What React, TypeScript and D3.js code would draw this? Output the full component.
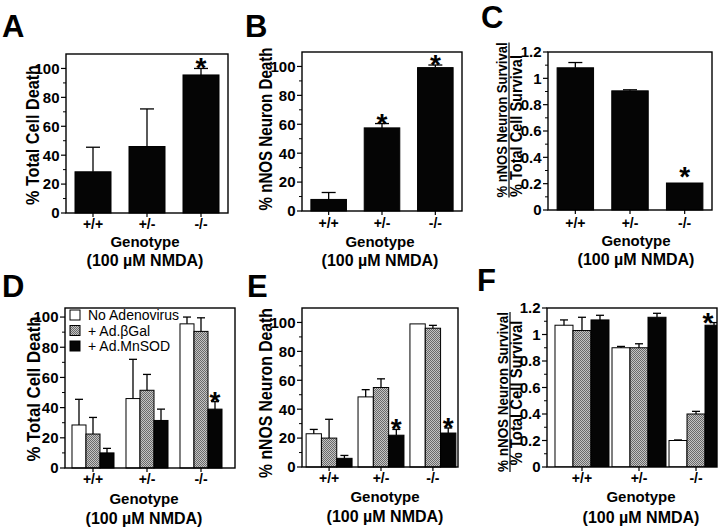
import React from "react";
import * as d3 from "d3";

const genotypes = ["+/+", "+/-", "-/-"];
const legendNames = ["No Adenovirus", "+ Ad.\u03B2Gal", "+ Ad.MnSOD"];
const pctTicks = [0, 20, 40, 60, 80, 100];
const pctMinor = [10, 30, 50, 70, 90];
const ratioTicks = [0, 0.2, 0.4, 0.6, 0.8, 1, 1.2];
const ratioMinor = [0.1, 0.3, 0.5, 0.7, 0.9, 1.1];

// Panel A
const aTotalDeath = [28.5, 46, 95.5];
const aTotalDeathErr = [17, 26, 4.5];
const aStars = [false, false, true];
// Panel B
const bNosDeath = [8, 57.5, 99.2];
const bNosDeathErr = [4.8, 3, 1.8];
const bStars = [false, true, true];
// Panel C
const cRatio = [1.08, 0.905, 0.205];
const cRatioErr = [0.04, 0.008, 0];
const cStars = [false, false, true];
// Panel D
const dNoAdeno = [28.5, 46, 95.5];
const dNoAdenoErr = [17, 26, 4.5];
const dBGal = [22.5, 51.5, 90.5];
const dBGalErr = [11, 10.5, 9];
const dMnSOD = [10, 31.5, 39];
const dMnSODErr = [3, 7.5, 5];
const dMnSODStars = [false, false, true];
// Panel E
const eNoAdeno = [23, 48.5, 99];
const eNoAdenoErr = [3, 5, 0];
const eBGal = [20, 55, 96];
const eBGalErr = [13, 6, 2];
const eMnSOD = [6, 22, 23.5];
const eMnSODErr = [2, 4, 3.5];
const eMnSODStars = [false, true, true];
// Panel F
const fNoAdeno = [1.07, 0.9, 0.2];
const fNoAdenoErr = [0.04, 0.01, 0.004];
const fBGal = [1.03, 0.9, 0.4];
const fBGalErr = [0.1, 0.03, 0.02];
const fMnSOD = [1.11, 1.13, 1.07];
const fMnSODErr = [0.035, 0.03, 0.02];
const fMnSODStars = [false, false, true];

const noStars = [false, false, false];
const FONT = "'Liberation Sans', Arial, Helvetica, sans-serif";
const WHITE = "#ffffff";
const GRAY = "url(#dither)";
const BLACK = "#050505";

type Series = { values: number[]; errs: number[]; fill: string; stars: boolean[] };
type Title = { text: string; x: number; y: number; len: number; fs: number; underline?: boolean };
type PanelCfg = {
  id: string;
  letter: string;
  letterX: number;
  letterY: number;
  frame: [number, number, number, number];
  max: number;
  ticks: number[];
  minor: number[];
  fmt: (d: number) => string;
  band: [number, number];
  pi: number;
  po: number;
  series: Series[];
  titles: Title[];
  xTitleX: number;
  xLabelY: number;
  genoY: number;
  nmdaY: number;
  capHalf: number;
  legend?: boolean;
  clip?: boolean;
};

const pctFmt = (d: number) => String(d);
const ratioFmt = (d: number) => String(+d.toFixed(1));

const panels: PanelCfg[] = [
  {
    id: "A", letter: "A", letterX: 2, letterY: 37, frame: [66, 228, 54, 213], max: 110,
    ticks: pctTicks, minor: pctMinor, fmt: pctFmt, band: [66, 228], pi: 1 / 3, po: 1 / 6,
    series: [{ values: aTotalDeath, errs: aTotalDeathErr, fill: BLACK, stars: aStars }],
    titles: [{ text: "% Total Cell Death", x: 39, y: 135, len: 140, fs: 19 }],
    xTitleX: 145, xLabelY: 229, genoY: 247, nmdaY: 266, capHalf: 7,
  },
  {
    id: "B", letter: "B", letterX: 245, letterY: 37, frame: [302, 462, 52, 211], max: 110,
    ticks: pctTicks, minor: pctMinor, fmt: pctFmt, band: [302, 462], pi: 1 / 3, po: 1 / 6,
    series: [{ values: bNosDeath, errs: bNosDeathErr, fill: BLACK, stars: bStars }],
    titles: [{ text: "% nNOS Neuron Death", x: 272, y: 129, len: 163, fs: 19 }],
    xTitleX: 380, xLabelY: 228, genoY: 247, nmdaY: 266, capHalf: 7,
  },
  {
    id: "C", letter: "C", letterX: 481, letterY: 28, frame: [548, 712, 52, 210], max: 1.2,
    ticks: ratioTicks, minor: ratioMinor, fmt: ratioFmt, band: [548, 712], pi: 1 / 3, po: 1 / 6,
    series: [{ values: cRatio, errs: cRatioErr, fill: BLACK, stars: cStars }],
    titles: [
      { text: "% nNOS Neuron Survival", x: 507, y: 120, len: 155, fs: 15, underline: true },
      { text: "% Total Cell Survival", x: 522, y: 126, len: 142, fs: 16 },
    ],
    xTitleX: 636, xLabelY: 228, genoY: 246, nmdaY: 265, capHalf: 7,
  },
  {
    id: "D", letter: "D", letterX: 2, letterY: 297, frame: [65, 235, 308, 468], max: 106,
    ticks: pctTicks, minor: pctMinor, fmt: pctFmt, band: [66, 228], pi: 0.222, po: 0.111,
    series: [
      { values: dNoAdeno, errs: dNoAdenoErr, fill: WHITE, stars: noStars },
      { values: dBGal, errs: dBGalErr, fill: GRAY, stars: noStars },
      { values: dMnSOD, errs: dMnSODErr, fill: BLACK, stars: dMnSODStars },
    ],
    titles: [{ text: "% Total Cell Death", x: 40, y: 389, len: 145, fs: 19 }],
    xTitleX: 144, xLabelY: 484, genoY: 504, nmdaY: 524, capHalf: 4, legend: true,
  },
  {
    id: "E", letter: "E", letterX: 247, letterY: 297, frame: [302, 458, 308, 467], max: 110,
    ticks: pctTicks, minor: pctMinor, fmt: pctFmt, band: [303, 459], pi: 0.115, po: 0.06,
    series: [
      { values: eNoAdeno, errs: eNoAdenoErr, fill: WHITE, stars: noStars },
      { values: eBGal, errs: eBGalErr, fill: GRAY, stars: noStars },
      { values: eMnSOD, errs: eMnSODErr, fill: BLACK, stars: eMnSODStars },
    ],
    titles: [{ text: "% nNOS Neuron Death", x: 272, y: 393, len: 170, fs: 19 }],
    xTitleX: 385, xLabelY: 483, genoY: 502, nmdaY: 522, capHalf: 4,
  },
  {
    id: "F", letter: "F", letterX: 477, letterY: 291, frame: [547, 717, 308, 467], max: 1.2,
    ticks: ratioTicks, minor: ratioMinor, fmt: ratioFmt, band: [553, 725], pi: 0.053, po: 0.035,
    series: [
      { values: fNoAdeno, errs: fNoAdenoErr, fill: WHITE, stars: noStars },
      { values: fBGal, errs: fBGalErr, fill: GRAY, stars: noStars },
      { values: fMnSOD, errs: fMnSODErr, fill: BLACK, stars: fMnSODStars },
    ],
    titles: [
      { text: "% nNOS Neuron Survival", x: 508, y: 392, len: 160, fs: 15, underline: true },
      { text: "% Total Cell Survival", x: 522, y: 393, len: 145, fs: 16 },
    ],
    xTitleX: 641, xLabelY: 483, genoY: 502, nmdaY: 523, capHalf: 4, clip: true,
  },
];

function Panel({ p }: { p: PanelCfg }) {
  const [x0, x1, y0, y1] = p.frame;
  const x = d3.scaleBand<string>().domain(genotypes).range(p.band).paddingInner(p.pi).paddingOuter(p.po);
  const xs = d3
    .scaleBand<number>()
    .domain(p.series.map((_, i) => i))
    .range([0, x.bandwidth()])
    .padding(0);
  const y = d3.scaleLinear().domain([0, p.max]).range([y1, y0]);
  const clipId = `clip-${p.id}`;
  const starFs = 28;
  const marks = p.series.flatMap((s, si) =>
    genotypes.map((g, gi) => {
      const bx = (x(g) as number) + (xs(si) as number);
      const bw = xs.bandwidth();
      const v = s.values[gi];
      const e = s.errs[gi];
      return { key: `${si}-${gi}`, bx, bw, cx: bx + bw / 2, top: y(v), et: y(v + e), e, fill: s.fill, star: s.stars[gi] };
    })
  );
  return (
    <g>
      {p.clip && (
        <clipPath id={clipId}>
          <rect x={x0} y={y0 - 40} width={x1 - x0} height={y1 - y0 + 40} />
        </clipPath>
      )}
      <text x={p.letterX} y={p.letterY} fontSize={31} fontWeight="bold" fontFamily={FONT}>
        {p.letter}
      </text>
      <g clipPath={p.clip ? `url(#${clipId})` : undefined}>
        {marks.map((m) => (
          <g key={m.key}>
            <rect x={m.bx} y={m.top} width={m.bw} height={y(0) - m.top} fill={m.fill} stroke="#000" strokeWidth={1} />
            {m.e > 0 && (
              <g stroke="#000" strokeWidth={1.3}>
                <line x1={m.cx} x2={m.cx} y1={m.top} y2={m.et} />
                <line x1={m.cx - p.capHalf} x2={m.cx + p.capHalf} y1={m.et} y2={m.et} />
              </g>
            )}
          </g>
        ))}
      </g>
      {marks
        .filter((m) => m.star)
        .map((m) => (
          <text
            key={`s${m.key}`}
            x={Math.min(m.cx, x1 - 9)}
            y={(m.e > 0 ? m.et - 3 : m.top - 9) + 0.43 * starFs}
            fontSize={starFs}
            fontWeight="bold"
            textAnchor="middle"
            fontFamily={FONT}
          >
            *
          </text>
        ))}
      <rect x={x0} y={y0} width={x1 - x0} height={y1 - y0} fill="none" stroke="#000" strokeWidth={1.4} />
      {p.ticks.map((t) => (
        <g key={`t${t}`}>
          <line x1={x0 - 5} x2={x0} y1={y(t)} y2={y(t)} stroke="#000" strokeWidth={1.2} />
          <text
            x={x0 - 6.5}
            y={y(t)}
            dy="0.36em"
            textAnchor="end"
            fontSize={15}
            fontWeight="bold"
            fontFamily={FONT}
          >
            {p.fmt(t)}
          </text>
        </g>
      ))}
      {p.minor.map((t) => (
        <line key={`m${t}`} x1={x0 - 3} x2={x0} y1={y(t)} y2={y(t)} stroke="#000" strokeWidth={1} />
      ))}
      {genotypes.map((g) => {
        const cx = (x(g) as number) + x.bandwidth() / 2;
        return (
          <g key={`x${g}`}>
            <line x1={cx} x2={cx} y1={y1} y2={y1 + 4} stroke="#000" strokeWidth={1.2} />
            <text x={cx} y={p.xLabelY} textAnchor="middle" fontSize={14} fontWeight="bold" fontFamily={FONT}>
              {g}
            </text>
          </g>
        );
      })}
      <text x={p.xTitleX} y={p.genoY} textAnchor="middle" fontSize={15} fontWeight="bold" fontFamily={FONT}>
        Genotype
      </text>
      <text
        x={p.xTitleX}
        y={p.nmdaY}
        textAnchor="middle"
        fontSize={16}
        fontWeight="bold"
        fontFamily={FONT}
        style={{ whiteSpace: "pre" }}
      >
        {"(100 \u00B5M NMDA)"}
      </text>
      {p.titles.map((t, i) => (
        <g key={`yt${i}`} transform={`translate(${t.x},${t.y}) rotate(-90)`}>
          <text
            x={0}
            y={0}
            textAnchor="middle"
            fontSize={t.fs}
            fontWeight="bold"
            fontFamily={FONT}
            textLength={t.len}
            lengthAdjust="spacingAndGlyphs"
          >
            {t.text}
          </text>
          {t.underline && (
            <line x1={-t.len / 2} x2={t.len / 2} y1={2} y2={2} stroke="#000" strokeWidth={1.2} />
          )}
        </g>
      ))}
      {p.legend &&
        legendNames.map((name, i) => {
          const ly = 315 + i * 15.5;
          return (
            <g key={`lg${i}`}>
              <rect x={70} y={ly - 5} width={10} height={10} fill={p.series[i].fill} stroke="#000" strokeWidth={1} />
              <text x={88} y={ly} dy="0.36em" fontSize={14} fontFamily={FONT}>
                {name}
              </text>
            </g>
          );
        })}
    </g>
  );
}

export default function App() {
  return (
    <svg
      width={720}
      height={529}
      viewBox="0 0 720 529"
      style={{ position: "absolute", left: 0, top: 0, background: "#fff" }}
    >
      <defs>
        <pattern id="dither" width={2} height={2} patternUnits="userSpaceOnUse">
          <rect width={2} height={2} fill="#c4c4c4" />
          <rect x={0} y={0} width={1} height={1} fill="#6a6a6a" />
          <rect x={1} y={1} width={1} height={1} fill="#6a6a6a" />
        </pattern>
      </defs>
      <rect width={720} height={529} fill="#fff" />
      {panels.map((p) => (
        <Panel key={p.id} p={p} />
      ))}
    </svg>
  );
}
